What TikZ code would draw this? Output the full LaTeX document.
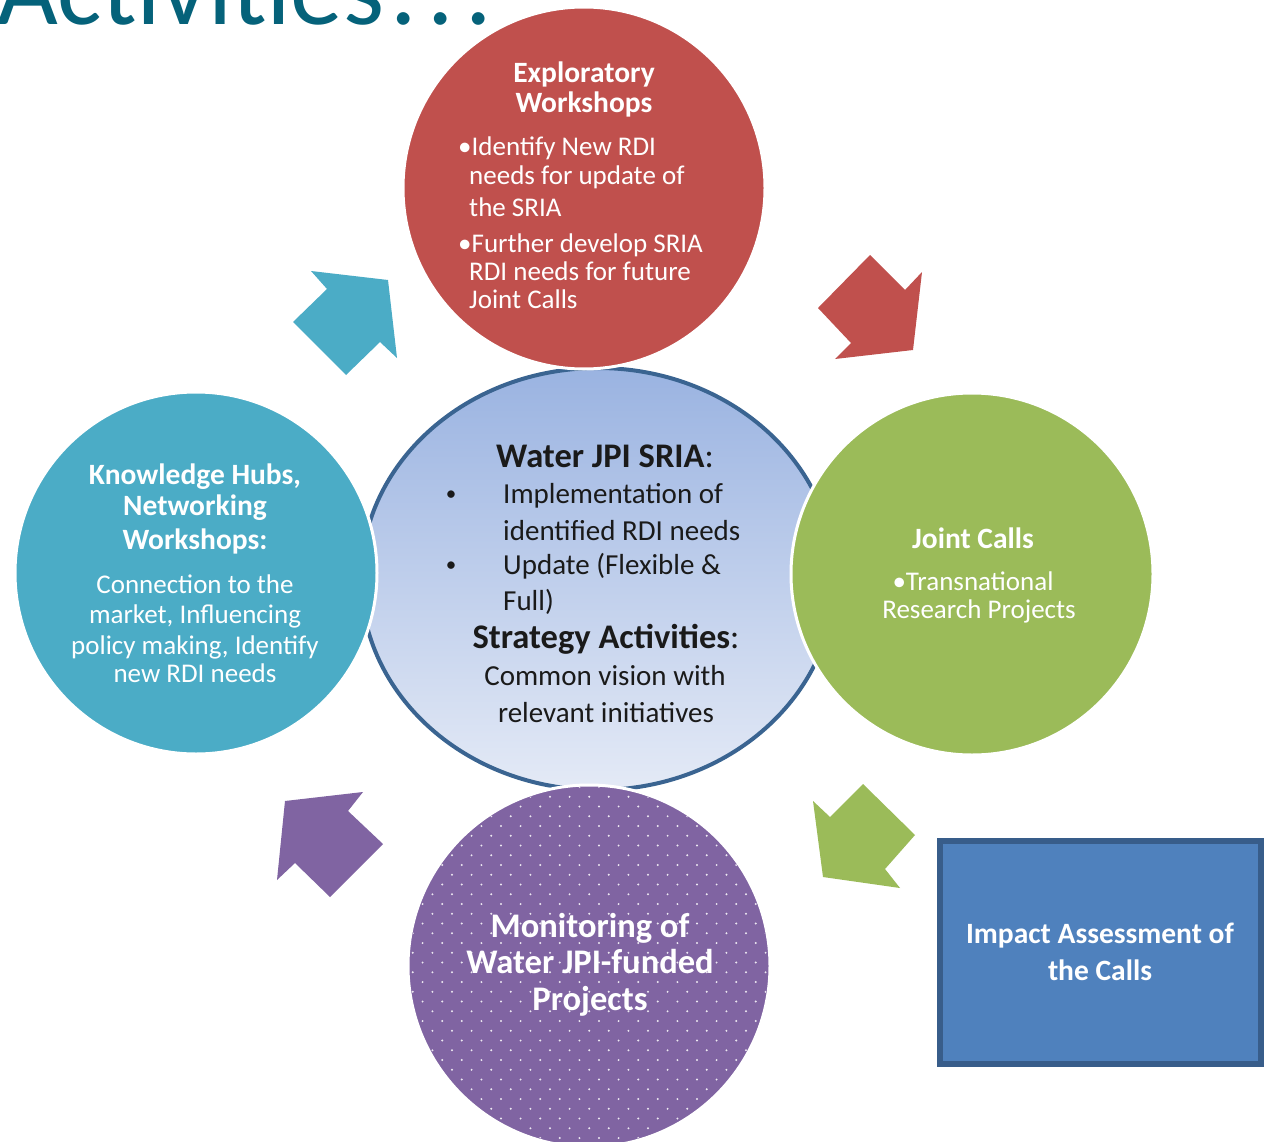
\documentclass[tikz,border=0pt]{standalone}
\usepackage{fontspec}
\setmainfont{Carlito}
\usetikzlibrary{shapes.geometric}
\definecolor{cred}{HTML}{C0504D}
\definecolor{cteal}{HTML}{4BACC6}
\definecolor{cgreen}{HTML}{9BBB59}
\definecolor{cpurple}{HTML}{8064A2}
\definecolor{crectf}{HTML}{4F81BD}
\definecolor{crectb}{HTML}{385D8A}
\definecolor{cellb}{HTML}{3A6491}
\definecolor{celltop}{HTML}{9AB3E1}
\definecolor{cellbot}{HTML}{E4EAF6}
\definecolor{ctitle}{HTML}{05627A}
\definecolor{ctext}{HTML}{1A1A1A}
\begin{document}
\begin{tikzpicture}[x=1pt,y=-1pt,
  bigcirc/.style={circle, draw=white, line width=3pt, minimum size=#1, inner sep=0},
  blockarrow/.style={fill=#1, draw=none},
  wbold/.style={text=white, inner sep=0, anchor=base, font=\bfseries\fontsize{29.5}{30}\selectfont},
  wreg/.style={text=white, inner sep=0, anchor=base, font=\fontsize{27}{30}\selectfont},
  wregl/.style={wreg, anchor=base west},
  kbold/.style={text=ctext, inner sep=0, anchor=base, font=\bfseries\fontsize{34.5}{36}\selectfont},
  kreg/.style={text=ctext, inner sep=0, anchor=base, font=\fontsize{29}{34}\selectfont},
  kregl/.style={kreg, anchor=base west},
  kbullet/.style={text=ctext, inner sep=0, anchor=base, font=\fontsize{21}{24}\selectfont},
  pbold/.style={text=white, inner sep=0, anchor=base, font=\bfseries\fontsize{34.5}{36}\selectfont},
  rbold/.style={text=white, inner sep=0, anchor=base, font=\bfseries\fontsize{29.5}{32}\selectfont}
]
\useasboundingbox (0,0) rectangle (1268,1142);
\fill[white] (0,0) rectangle (1268,1142);

% title (cropped at top, as in the reference)
\node[anchor=base west, inner sep=0, text=ctitle, font=\fontsize{105}{105}\selectfont] (title) at (-3,25) {Activities\kern6pt.\kern11pt.\kern11pt.};

% central ellipse
\node[ellipse, minimum width=474pt, minimum height=422pt, top color=celltop, bottom color=cellbot, draw=cellb, line width=4pt, inner sep=0] (sria) at (598,579) {};

% surrounding circles
\node[bigcirc=362pt, fill=cred] (explo) at (584,188) {};
\node[bigcirc=362pt, fill=cteal] (hubs) at (196,573) {};
\node[bigcirc=362pt, fill=cgreen] (calls) at (972,574) {};
\node[bigcirc=362pt, fill=cpurple] (monit) at (589,966) {};

% dotted pattern on purple circle
\begin{scope}
  \clip (589,966) circle (179);
  \foreach \i in {0,...,37} {
    \foreach \j in {0,...,19} {
      \fill[white, opacity=0.85] ({403+\j*19.6+mod(\i,2)*9.8}, {787+\i*9.75}) circle (1.1);
    }
  }
\end{scope}

% block arrows
\fill[blockarrow=cteal] (388,280) -- (397,358) -- (380,342) -- (346,375) -- (293,322) -- (327,289) -- (311,271) -- cycle;
\fill[blockarrow=cred] (913,350) -- (835,359) -- (851,343) -- (818,308) -- (870,255) -- (905,290) -- (922,272) -- cycle;
\fill[blockarrow=cgreen] (823,877) -- (813,801) -- (830,817) -- (863,784) -- (915,835) -- (885,869) -- (900,888) -- cycle;
\fill[blockarrow=cpurple] (285,801) -- (363,792) -- (348,811) -- (383,844) -- (330,897) -- (295,863) -- (277,880) -- cycle;

% impact box
\node[draw=crectb, fill=crectf, line width=6pt, minimum width=321pt, minimum height=223pt, inner sep=0] (impact) at (1100.5,952.5) {};

% red circle text
\node[wbold] (r1) at (584,83) {Exploratory};
\node[wbold] (r2) at (584,113) {Workshops};
\node[wregl] (r3) at (458,156) {•Identify New RDI};
\node[wregl] (r4) at (469,185) {needs for update of};
\node[wregl] (r5) at (469,216) {the SRIA};
\node[wregl] (r6) at (458,252) {•Further develop SRIA};
\node[wregl] (r7) at (469,280) {RDI needs for future};
\node[wregl] (r8) at (469,308) {Joint Calls};

% teal circle text
\node[wbold] (h1) at (195,484) {Knowledge Hubs,};
\node[wbold] (h2) at (195,515) {Networking};
\node[wbold] (h3) at (195,549) {Workshops:};
\node[wreg] (h4) at (195,593) {Connection to the};
\node[wreg] (h5) at (195,623) {market, Influencing};
\node[wreg] (h6) at (195,654) {policy making, Identify};
\node[wreg] (h7) at (195,682) {new RDI needs};

% green circle text
\node[wbold] (c1) at (973,548) {Joint Calls};
\node[wreg] (c2) at (973,590) {•Transnational};
\node[wreg] (c3) at (979,618) {Research Projects};

% central text
\node[kbold] (s1) at (605,467) {Water JPI SRIA\mdseries:};
\node[kbullet] (sb1) at (451,500) {•};
\node[kregl] (s2) at (503,503) {Implementation of};
\node[kregl] (s3) at (503,540) {identified RDI needs};
\node[kbullet] (sb2) at (451,571) {•};
\node[kregl] (s4) at (503,574) {Update (Flexible \&};
\node[kregl] (s5) at (503,610) {Full)};
\node[kbold] (s6) at (606,648) {Strategy Activities\mdseries:};
\node[kreg] (s7) at (605,685) {Common vision with};
\node[kreg] (s8) at (606,722) {relevant initiatives};

% purple circle text
\node[pbold] (m1) at (590,937) {Monitoring of};
\node[pbold] (m2) at (590,973) {Water JPI-funded};
\node[pbold] (m3) at (590,1010) {Projects};

% impact text
\node[rbold] (i1) at (1100,943) {Impact Assessment of};
\node[rbold] (i2) at (1100,980) {the Calls};
\end{tikzpicture}
\end{document}
